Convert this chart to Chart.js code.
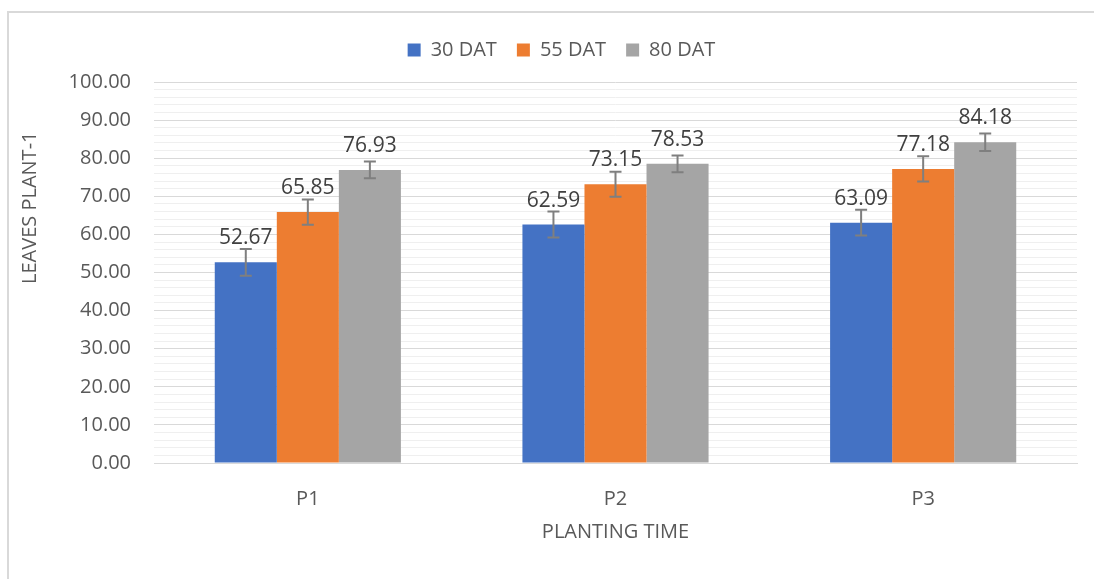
<!DOCTYPE html>
<html>
<head>
<meta charset="utf-8">
<title>Leaves per plant</title>
<script src="https://cdn.jsdelivr.net/npm/chart.js@4.4.1/dist/chart.umd.min.js"></script>
<style>
  html, body { margin: 0; padding: 0; background: #fff; }
  body { width: 1094px; height: 579px; overflow: hidden; position: relative; }
  .frame { position: absolute; left: 7px; top: 11px; width: 1200px; height: 700px;
           border-left: 2px solid #d9d9d9; border-top: 2px solid #d9d9d9; }
  #chart { position: absolute; left: 0; top: 0; }
</style>
</head>
<body>
<div class="frame"></div>
<canvas id="chart" width="1094" height="579"></canvas>
<script>
// values
const categories = ['P1', 'P2', 'P3'];
const seriesNames = ['30 DAT', '55 DAT', '80 DAT'];
const dat30 = [52.67, 62.59, 63.09];
const dat55 = [65.85, 73.15, 77.18];
const dat80 = [76.93, 78.53, 84.18];
const err30 = [3.5, 3.4, 3.4];
const err55 = [3.3, 3.3, 3.3];
const err80 = [2.2, 2.2, 2.3];
const yMin = 0, yMax = 100, yMajor = 10, yMinor = 2;

const colors = ['#4472c4', '#ed7d31', '#a5a5a5'];
const values = [dat30, dat55, dat80];
const errors = [err30, err55, err80];

Chart.defaults.font.family = '"Open Sans", sans-serif';
Chart.defaults.color = '#595959';

// error bars + value labels on top of each bar
const errorBars = {
  id: 'errorBars',
  afterDatasetsDraw(chart) {
    const ctx = chart.ctx;
    const y = chart.scales.y;
    chart.data.datasets.forEach((ds, i) => {
      chart.getDatasetMeta(i).data.forEach((bar, j) => {
        const v = ds.data[j], e = errors[i][j];
        const top = y.getPixelForValue(v + e);
        const bot = y.getPixelForValue(v - e);
        ctx.save();
        ctx.strokeStyle = '#7f7f7f';
        ctx.lineWidth = 2;
        ctx.beginPath();
        ctx.moveTo(bar.x, top); ctx.lineTo(bar.x, bot);
        ctx.moveTo(bar.x - 6, top); ctx.lineTo(bar.x + 6, top);
        ctx.moveTo(bar.x - 6, bot); ctx.lineTo(bar.x + 6, bot);
        ctx.stroke();
        ctx.fillStyle = '#404040';
        ctx.font = '21px "Open Sans"';
        ctx.textAlign = 'center';
        ctx.textBaseline = 'alphabetic';
        ctx.fillText(v.toFixed(2), bar.x, bar.y - 18);
        ctx.restore();
      });
    });
  }
};

// y title sits a bit above the middle, like the original
const yTitle = {
  id: 'yTitle',
  afterDraw(chart) {
    const {ctx, chartArea} = chart;
    ctx.save();
    ctx.translate(30, chartArea.top + (chartArea.bottom - chartArea.top) * 0.33);
    ctx.rotate(-Math.PI / 2);
    ctx.fillStyle = '#595959';
    ctx.font = '20px "Open Sans"';
    ctx.textAlign = 'center';
    ctx.textBaseline = 'middle';
    ctx.fillText('LEAVES PLANT-1', 0, 0);
    ctx.restore();
  }
};

// fixed legend height so the plot starts where it should,
// and nudge it right a little (the original isn't centred on the canvas)
const legendHeight = {
  id: 'legendHeight',
  beforeInit(chart) {
    const fit = chart.legend.fit;
    chart.legend.fit = function () {
      fit.bind(chart.legend)();
      this.height = 62;
    };
  },
  afterLayout(chart) {
    chart.legend.left += 23;
    chart.legend.right += 23;
  }
};

new Chart(document.getElementById('chart'), {
  type: 'bar',
  data: {
    labels: categories,
    datasets: seriesNames.map((name, i) => ({
      label: name,
      data: values[i],
      backgroundColor: colors[i],
      borderWidth: 0,
      categoryPercentage: 0.605,
      barPercentage: 1
    }))
  },
  options: {
    responsive: false,
    animation: false,
    layout: { padding: { top: 20, right: 17, bottom: 0, left: 0 } },
    plugins: {
      legend: {
        position: 'top',
        labels: { boxWidth: 13, boxHeight: 13, padding: 20, color: '#595959', font: { size: 20 } }
      },
      tooltip: { enabled: false }
    },
    scales: {
      x: {
        grid: { display: false },
        border: { color: '#d9d9d9', width: 1 },
        ticks: { padding: 16, color: '#595959', font: { size: 20 } },
        title: { display: true, text: 'PLANTING TIME', color: '#595959', font: { size: 20 },
                 padding: { top: 0, bottom: 35 } },
        afterFit(scale) { scale.height = 116; }
      },
      y: {
        min: yMin,
        max: yMax,
        border: { display: false },
        grid: {
          drawTicks: false,
          lineWidth: 1,
          color: c => (c.tick && c.tick.value % yMajor === 0) ? '#d9d9d9' : '#efefef'
        },
        ticks: {
          stepSize: yMinor,
          padding: 23,
          color: '#595959',
          font: { size: 20 },
          autoSkip: false,
          callback: v => v % yMajor === 0 ? v.toFixed(2) : ''
        },
        afterFit(scale) { scale.width = 154; }
      }
    }
  },
  plugins: [legendHeight, errorBars, yTitle]
});
</script>
</body>
</html>
